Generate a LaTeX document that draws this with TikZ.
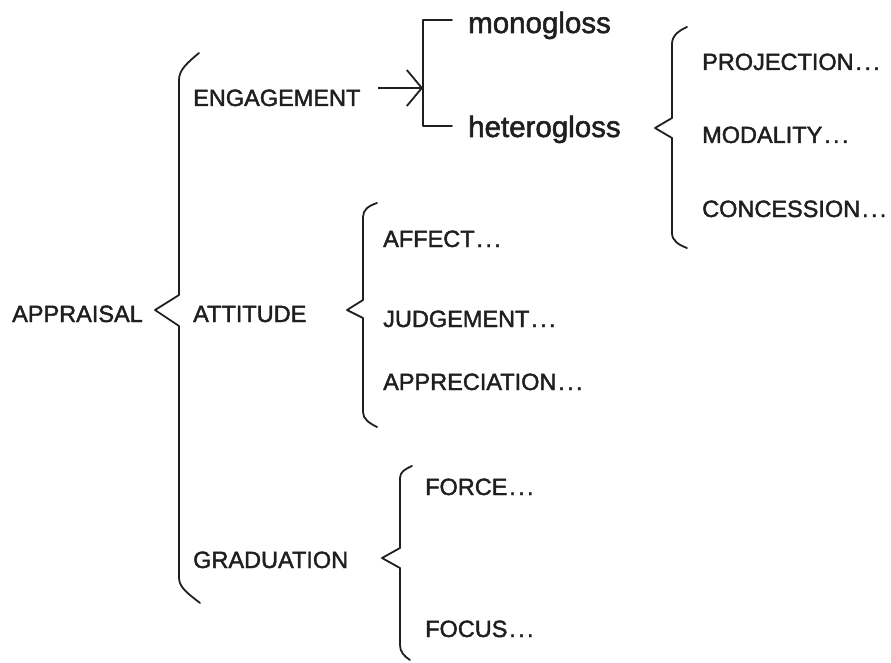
\documentclass[tikz,border=0pt]{standalone}
\usepackage{fontspec}
\setmainfont[FakeBold=1.8]{Liberation Sans}
\usetikzlibrary{arrows.meta}

\newcommand{\trail}{\hspace{0.08em}.\hspace{0.1em}.\hspace{0.1em}.}

\tikzset{
  caps/.style={inner sep=0pt, anchor=base west, text=black!88,
               font=\fontsize{23.5}{26}\selectfont},
  lower/.style={inner sep=0pt, anchor=base west, text=black!88,
                font=\fontsize{29.5}{32}\selectfont},
  brace/.style={draw=black!88, line width=1.8pt, line join=round, line cap=round},
  feed/.style={draw=black!88, line width=1.8pt,
               -{Straight Barb[length=15pt,width=36pt,line width=1.8pt]}}
}

\begin{document}
\begin{tikzpicture}[x=1pt,y=-1pt]
  \useasboundingbox (0,0) rectangle (891,663);

  % system names
  \node[caps] (appraisal)  at (12,322)  {APPRAISAL};
  \node[caps] (engagement) at (193,106) {ENGAGEMENT};
  \node[caps] (attitude)   at (193,322) {ATTITUDE};
  \node[caps] (graduation) at (193,568) {GRADUATION};

  \node[lower] (mono)   at (468,33)  {monogloss};
  \node[lower] (hetero) at (468,137) {heterogloss};

  \node[caps] (projection) at (702,70)  {PROJECTION\trail};
  \node[caps] (modality)   at (702,143) {MODALITY\trail};
  \node[caps] (concession) at (702,217) {CONCESSION\trail};

  \node[caps] (affect)       at (383,247) {AFFECT\trail};
  \node[caps] (judgement)    at (383,327) {JUDGEMENT\trail};
  \node[caps] (appreciation) at (383,390) {APPRECIATION\trail};

  \node[caps] (force) at (425,495) {FORCE\trail};
  \node[caps] (focus) at (425,637) {FOCUS\trail};

  % APPRAISAL brace
  \draw[brace] (199,53) .. controls (187,63) and (179,70) .. (179,80)
    -- (179,295) -- (155,310) -- (179,326) -- (179,578)
    .. controls (179,588) and (190,595) .. (200,603);

  % ATTITUDE brace
  \draw[brace] (377,203) .. controls (368,206) and (363,210) .. (363,217)
    -- (363,300) -- (347,310) -- (363,318) -- (363,412)
    .. controls (363,419) and (369,423) .. (377,427);

  % heterogloss brace
  \draw[brace] (687,27) .. controls (678,31) and (672,36) .. (672,44)
    -- (672,118) -- (655,128) -- (672,138) -- (672,233)
    .. controls (672,241) and (679,245) .. (687,248);

  % GRADUATION brace
  \draw[brace] (412,466) .. controls (405,469) and (400,472) .. (400,478)
    -- (400,548) -- (382,558) -- (400,568) -- (400,645)
    .. controls (400,652) and (404,656) .. (410,660);

  % ENGAGEMENT choice: monogloss / heterogloss
  \coordinate (choice) at (423,88);
  \draw[brace] (452,20) -- (423,20) -- (423,126) -- (452,126);
  \coordinate (feedstart) at (378,88);
  \draw[feed] (feedstart) -- (choice);
\end{tikzpicture}
\end{document}
